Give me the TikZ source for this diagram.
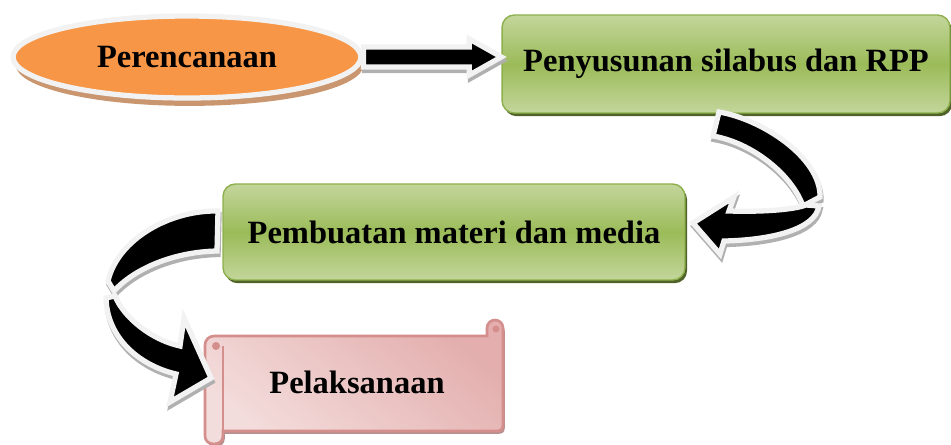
\documentclass[tikz,border=0pt]{standalone}
\usepackage{fontspec}
\setmainfont{Liberation Serif}
\usepackage{tikz}
\usetikzlibrary{arrows.meta,positioning,calc,shapes.geometric,shadows}
\definecolor{orangefill}{HTML}{F79646}
\definecolor{orangeshade}{HTML}{C9966F}
\definecolor{rimwhite}{HTML}{F2F2F2}
\definecolor{rimgrey}{HTML}{B0B0B0}
\definecolor{greenlight}{HTML}{C3D69B}
\definecolor{greendark}{HTML}{9BBB59}
\definecolor{greenedge}{HTML}{8DAF4C}
\definecolor{greenshade}{HTML}{4F6228}
\definecolor{pinklight}{HTML}{F3DDDC}
\definecolor{pinkdark}{HTML}{E3AEAD}
\definecolor{pinkedge}{HTML}{D48E8C}
\definecolor{pinkshade}{HTML}{B7908F}

\begin{document}
\begin{tikzpicture}[x=0.02cm,y=-0.02cm]
  \tikzstyle{stage}=[font=\fontsize{18.5}{22}\selectfont\bfseries,align=center,inner sep=0pt]
  \tikzstyle{stagebox}=[stage,rounded corners=7pt,draw=greenedge,line width=0.8pt,top color=greenlight,bottom color=greenlight,middle color=greendark,drop shadow={fill=greenshade,opacity=1,shadow xshift=1.2pt,shadow yshift=-1.8pt}]
  \tikzstyle{blockarrow}=[fill=black,draw=rimwhite,line width=3pt,line join=miter,miter limit=4,preaction={draw=rimgrey,fill=rimgrey,line width=3pt,transform canvas={shift={(0.6pt,-2pt)}}}]
  \useasboundingbox (0,0) rectangle (951,444);
  % stages
  \node[stage,ellipse,draw=rimwhite,line width=3pt,fill=orangefill,minimum width=6.96cm,minimum height=1.64cm,drop shadow={fill=orangeshade,opacity=1,shadow xshift=1.5pt,shadow yshift=-4.5pt}] (per) at (187,57) {Perencanaan};
  \node[stagebox,minimum width=8.96cm,minimum height=1.96cm] (silabus) at (726,64) {Penyusunan silabus dan RPP};
  \node[stagebox,minimum width=9.24cm,minimum height=1.92cm] (media) at (454,232) {Pembuatan materi dan media};
  % scroll
  \path[draw=pinkedge,line width=1.5pt,top color=pinkdark,bottom color=pinklight,shading angle=-40,drop shadow={fill=pinkshade,opacity=1,shadow xshift=1pt,shadow yshift=-1.6pt}]
    (205,436) -- (205,345) .. controls (205,340) and (209,336) .. (214,336) -- (487,336) -- (487,328)
    .. controls (487,323) and (491,320) .. (495,320) .. controls (499,320) and (503,323) .. (503,328)
    -- (503,425) .. controls (503,429) and (501,431) .. (497,431) -- (223,431) -- (223,436)
    .. controls (223,441) and (219,444) .. (214,444) .. controls (209,444) and (205,441) .. (205,436) -- cycle;
  \draw[pinkedge,line width=1.2pt] (223,431) -- (223,346);
  \fill[pinkedge] (216,346) circle (4) (496,329) circle (3.5);
  \node[stage] (plk) at (357,382) {Pelaksanaan};
  % arrows
  \coordinate (s0) at (per.east);
  \coordinate (s1) at (per.east -| silabus.west);
  \draw[blockarrow] ($(s0)+(0,-10)$) -- ($(s1)+(-32,-10)$) -- ($(s1)+(-32,-18)$) -- ($(s1)+(0,0)$)
    -- ($(s1)+(-32,18)$) -- ($(s1)+(-32,10)$) -- ($(s0)+(0,10)$) -- cycle;
  \draw[blockarrow] (719,112) .. controls (762,119) and (821,158) .. (820,197) -- (803,206)
    .. controls (792,175) and (753,143) .. (713,136) -- cycle;
  \draw[blockarrow] (819,206) .. controls (815,230) and (770,240) .. (724,241) -- (720,254) -- (693,223)
    -- (734,197) -- (729,211) .. controls (760,212) and (793,210) .. (806,205) -- cycle;
  \draw[blockarrow] (218,211) .. controls (170,210) and (118,239) .. (108,281) -- (114,291)
    .. controls (132,271) and (170,252) .. (217,251) -- cycle;
  \draw[blockarrow] (106,298) .. controls (107,337) and (138,365) .. (176,374) -- (170,402) -- (211,378)
    -- (184,318) -- (180,346) .. controls (152,340) and (124,318) .. (115,296) -- cycle;
\end{tikzpicture}
\end{document}
